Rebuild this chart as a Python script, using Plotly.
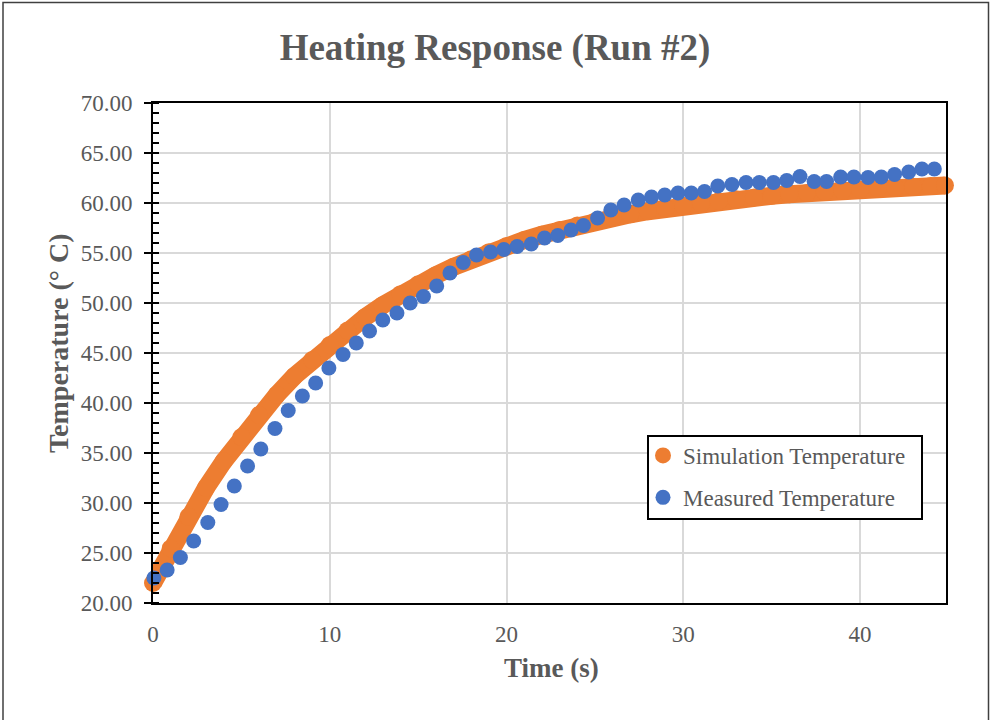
import plotly.graph_objects as go

# ---------------- data ----------------
sim_time = [0, 1, 2, 3, 4, 5, 6, 7, 8, 9, 10, 11, 12, 13, 14, 15, 16, 17, 18, 19,
            20, 21, 22, 23, 24, 25, 26, 27, 28, 29, 30, 31, 32, 33, 34, 35, 36, 37,
            38, 39, 40, 41, 42, 43, 44, 44.8]
sim_temp = [22.00, 25.46, 28.62, 31.52, 34.17, 36.59, 38.80, 40.82, 42.68, 44.30,
            45.80, 47.25, 48.58, 49.78, 50.88, 51.87, 52.78, 53.62, 54.38, 55.08,
            55.71, 56.29, 56.82, 57.31, 57.75, 58.16, 58.53, 58.87, 59.18, 59.46,
            59.72, 59.96, 60.18, 60.37, 60.56, 60.72, 60.87, 61.01, 61.14, 61.26,
            61.36, 61.46, 61.55, 61.63, 61.70, 61.76]

meas_time = [0.05, 0.8, 1.55, 2.3, 3.1, 3.85, 4.6, 5.35, 6.1, 6.9, 7.65, 8.45, 9.2,
             9.95, 10.75, 11.5, 12.25, 13.0, 13.8, 14.55, 15.3, 16.05, 16.8, 17.55,
             18.3, 19.1, 19.85, 20.6, 21.4, 22.15, 22.9, 23.65, 24.35, 25.15, 25.9,
             26.65, 27.45, 28.2, 28.95, 29.7, 30.45, 31.2, 31.95, 32.75, 33.55, 34.3,
             35.1, 35.85, 36.6, 37.4, 38.1, 38.9, 39.65, 40.45, 41.2, 41.95, 42.75,
             43.5, 44.2]
meas_temp = [22.5, 23.3, 24.55, 26.2, 28.05, 29.85, 31.7, 33.7, 35.4, 37.45, 39.25,
             40.7, 42.0, 43.5, 44.85, 46.0, 47.2, 48.3, 49.0, 50.0, 50.65, 51.7, 53.0,
             54.05, 54.8, 55.1, 55.35, 55.65, 55.9, 56.5, 56.75, 57.3, 57.75, 58.5,
             59.3, 59.8, 60.3, 60.6, 60.8, 61.0, 61.0, 61.15, 61.7, 61.85, 62.05,
             62.05, 62.05, 62.25, 62.65, 62.15, 62.15, 62.6, 62.6, 62.55, 62.6, 62.85,
             63.1, 63.4, 63.4]

x_range = [0, 44.86]
y_range = [20, 70]

title_text = "Heating Response (Run #2)"
x_title = "Time (s)"
y_title = "Temperature (° C)"
sim_name = "Simulation Temperature"
meas_name = "Measured Temperature"

# ---------------- style ----------------
ORANGE = "#ED7D31"
BLUE = "#4472C4"
TXT = "#595959"
GRID = "#D9D9D9"
FONT = "Liberation Serif"

W, H = 990, 720
ML, MR, MT, MB = 153, 44, 103, 117
PW, PH = W - ML - MR, H - MT - MB


def px(xpix):
    return (xpix - ML) / PW


def py(ypix):
    return (H - MB - ypix) / PH


fig = go.Figure()

# simulation band (continuous)
fig.add_trace(go.Scatter(
    x=sim_time, y=sim_temp, mode="lines",
    line=dict(color=ORANGE, width=18), legendgroup="sim",
    showlegend=False, hoverinfo="skip", cliponaxis=False))
fig.add_trace(go.Scatter(
    x=sim_time, y=sim_temp, mode="markers", name=sim_name,
    marker=dict(color=ORANGE, size=18), legendgroup="sim",
    cliponaxis=False))
fig.add_trace(go.Scatter(
    x=meas_time, y=meas_temp, mode="markers", name=meas_name,
    marker=dict(color=BLUE, size=15), legendgroup="meas",
    yaxis="y2", cliponaxis=False))

fig.update_layout(
    width=W, height=H,
    margin=dict(l=ML, r=MR, t=MT, b=MB),
    paper_bgcolor="white", plot_bgcolor="white",
    font=dict(family=FONT, color=TXT, size=23),
    title=dict(text="<b>%s</b>" % title_text, x=0.5, xref="container",
               xanchor="center", y=1 - 47 / H, yref="container",
               yanchor="middle", font=dict(family=FONT, size=37, color=TXT)),
    xaxis=dict(range=x_range, dtick=10, tick0=0, showgrid=True, gridcolor=GRID,
               gridwidth=1.5, zeroline=False, showline=True, linecolor="black",
               linewidth=2, mirror=True, ticks="", ticklabelstandoff=9,
               tickfont=dict(family=FONT, size=23, color=TXT)),
    yaxis=dict(range=y_range, dtick=5, tick0=20, tickformat=".2f", showgrid=True,
               gridcolor=GRID, gridwidth=1.5, zeroline=False, showline=True,
               linecolor="black", linewidth=2, mirror=True, ticks="outside",
               ticklen=7, tickwidth=2, tickcolor="black", ticklabelstandoff=7,
               tickfont=dict(family=FONT, size=23, color=TXT),
               minor=dict(dtick=1, ticks="inside", ticklen=6, tickwidth=1.5,
                          tickcolor="black", showgrid=False)),
    yaxis2=dict(range=y_range, overlaying="y", side="left", dtick=5, tick0=20,
                showgrid=False, zeroline=False, showline=False,
                showticklabels=False, ticks="inside", ticklen=6, tickwidth=2,
                tickcolor="black"),
    showlegend=True,
    legend=dict(x=px(643), y=py(434), xanchor="left", yanchor="top",
                bgcolor="rgba(0,0,0,0)", borderwidth=0,
                traceorder="grouped", tracegroupgap=9,
                font=dict(family=FONT, size=23, color=TXT)),
    annotations=[
        dict(text="<b>%s</b>" % x_title, xref="paper", yref="paper",
             x=px(551), y=py(668), showarrow=False, xanchor="center",
             yanchor="middle", font=dict(family=FONT, size=27, color=TXT)),
        dict(text="<b>%s</b>" % y_title, xref="paper", yref="paper",
             x=px(58), y=py(343), showarrow=False, xanchor="center",
             yanchor="middle", textangle=-90,
             font=dict(family=FONT, size=28, color=TXT)),
    ],
    shapes=[
        dict(type="rect", xref="paper", yref="paper", x0=px(648), x1=px(922),
             y0=py(519), y1=py(436), line=dict(color="black", width=2),
             fillcolor="white", layer="above"),
        dict(type="rect", xref="paper", yref="paper", x0=px(3), x1=px(988.5),
             y0=py(730), y1=py(2.5), line=dict(color="#404040", width=1.5),
             fillcolor="rgba(0,0,0,0)", layer="above"),
    ],
)

fig.write_html("out.html")
